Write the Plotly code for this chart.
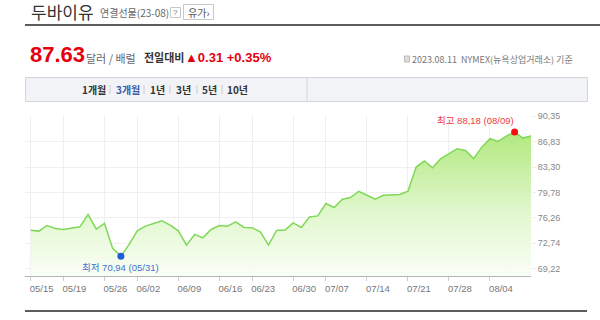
import plotly.graph_objects as go

# ---- data ----
dates = ["05/15","05/16","05/17","05/18","05/19","05/22","05/23","05/24","05/25","05/26",
         "05/30","05/31","06/01","06/02","06/05","06/06","06/07","06/08","06/09","06/12",
         "06/13","06/14","06/15","06/16","06/20","06/21","06/22","06/23","06/26","06/27",
         "06/28","06/29","06/30","07/03","07/05","07/06","07/07","07/10","07/11","07/12",
         "07/13","07/14","07/17","07/18","07/19","07/20","07/21","07/24","07/25","07/26",
         "07/27","07/28","07/31","08/01","08/02","08/03","08/04","08/07","08/08","08/09",
         "08/10","08/11"]
prices = [74.56,74.43,75.21,74.80,74.66,74.80,75.02,76.73,74.70,75.49,
          72.04,70.94,72.60,74.47,75.12,75.49,75.85,75.26,74.47,72.49,
          73.97,73.50,74.66,75.21,75.12,75.71,74.94,74.88,74.33,72.49,
          74.56,74.56,75.57,74.94,76.40,76.54,78.25,77.70,78.85,79.08,
          79.95,79.40,78.85,79.40,79.40,79.50,79.95,83.31,84.14,83.20,
          84.47,85.16,85.85,85.61,84.47,86.07,87.23,86.86,87.59,88.18,
          87.32,87.63]
x_ticks = ["05/15","05/19","05/26","06/02","06/09","06/16","06/23","06/30",
           "07/07","07/14","07/21","07/28","08/04"]
y_ticks = [69.22,72.74,76.26,79.78,83.30,86.83,90.35]
y_tick_text = ["69,22","72,74","76,26","79,78","83,30","86,83","90,35"]
tabs = ["1개월","3개월","1년","3년","5년","10년"]

# ---- layout helpers (pixel -> paper) ----
L, T, W, H = 25, 116, 506, 160
def X(px): return (px - L) / W
def Y(py): return (T + H - py) / H

FONT = "Liberation Sans, Noto Sans CJK KR, sans-serif"
KFONT = "Noto Sans CJK KR, sans-serif"

fig = go.Figure()
fig.add_trace(go.Scatter(
    x=dates, y=prices, mode="lines",
    line=dict(color="#7fd858", width=1.5),
    fill="tozeroy",
    fillgradient=dict(type="vertical",
                      colorscale=[[0, "#fafef6"], [0.45, "#e0f7cc"], [1, "#b0e87c"]],
                      start=68.21, stop=88.5),
    hoverinfo="skip", showlegend=False))

imin = prices.index(min(prices))
imax = prices.index(max(prices))
fig.add_trace(go.Scatter(x=[dates[imin]], y=[prices[imin]], mode="markers",
                         marker=dict(color="#1d5fd8", size=7), showlegend=False))
fig.add_trace(go.Scatter(x=[dates[imax]], y=[prices[imax]], mode="markers",
                         marker=dict(color="#f01010", size=7), showlegend=False))

fig.add_annotation(x=dates[imin], y=prices[imin], xref="x", yref="y",
                   text=f"최저 {prices[imin]:.2f} ({dates[imin]})".replace(".", ","),
                   showarrow=False, xanchor="center", yanchor="top", yshift=-4,
                   font=dict(family=FONT, size=9.5, color="#3f72d0"))
fig.add_annotation(x=dates[imax], y=prices[imax], xref="x", yref="y",
                   text=f"최고 {prices[imax]:.2f} ({dates[imax]})".replace(".", ","),
                   showarrow=False, xanchor="right", yanchor="bottom", yshift=4, xshift=1,
                   font=dict(family=FONT, size=9.5, color="#f03a3a"))

shapes = []
ann = []
def text(px, py, s, size, color, anchor="left", bold=False, family=FONT):
    ann.append(dict(x=X(px), y=Y(py), xref="paper", yref="paper", text=(f"<b>{s}</b>" if bold else s),
                    showarrow=False, xanchor=anchor, yanchor="middle",
                    font=dict(family=family, size=size, color=color)))
def rect(x0, y0, x1, y1, line="#cccccc", fill="rgba(0,0,0,0)", w=1):
    shapes.append(dict(type="rect", xref="paper", yref="paper", x0=X(x0), x1=X(x1), y0=Y(y0), y1=Y(y1),
                       line=dict(color=line, width=w), fillcolor=fill, layer="above"))
def line(x0, y0, x1, y1, color, w=1):
    shapes.append(dict(type="line", xref="paper", yref="paper", x0=X(x0), x1=X(x1), y0=Y(y0), y1=Y(y1),
                       line=dict(color=color, width=w)))

# header
text(29, 11, "두바이유", 17, "#333333", family=KFONT)
text(98, 12.5, "연결선물(23-08)", 10, "#666666", family=KFONT)
rect(170.5, 7.5, 180.5, 17.5, line="#c8c8c8")
text(175.5, 12.5, "?", 8, "#777777", anchor="center")
rect(183.5, 4.5, 213.5, 19.5, line="#c8c8c8")
text(198, 12, "유가›", 10, "#555555", anchor="center", family=KFONT)
line(25, 25, 600, 25, "#5c5c5c", 2)

text(28, 55, "87.63", 22, "#e4000f", bold=True)
text(84, 58, "달러 / 배럴", 11, "#666666", family=KFONT)
text(142, 57.5, "전일대비", 11, "#333333", bold=True, family=KFONT)
text(183, 58, "▲0.31 +0.35%", 13, "#e4000f", bold=True)
rect(404.5, 56, 409.5, 62, line="#bbbbbb", fill="#dddddd")
text(410, 60, "2023.08.11  NYMEX(뉴욕상업거래소) 기준", 9, "#777777", family=KFONT)

# tab bar
rect(25.5, 77.5, 587.5, 101.5, line="#d3d5db", fill="#f2f3f7")
line(307, 77.5, 307, 101.5, "#d3d5db")
tab_x = [93.5, 128, 157, 183.5, 209.5, 237]
for i, t in enumerate(tabs):
    text(tab_x[i], 89.5, t, 10, "#3a5bab" if i == 1 else "#333333", anchor="center", bold=True, family=KFONT)
for sx in [110, 144, 170, 197, 222]:
    line(sx, 85, sx, 94, "#cccccc")

# bottom line
line(25, 311, 587, 311, "#5c5c5c", 2)

fig.update_layout(
    width=600, height=320,
    margin=dict(l=L, r=600 - L - W, t=T, b=320 - T - H),
    paper_bgcolor="white", plot_bgcolor="white",
    shapes=shapes, annotations=list(fig.layout.annotations) + ann,
    showlegend=False,
    xaxis=dict(type="category", range=[-0.69, 61.0], tickmode="array", tickvals=x_ticks, ticktext=x_ticks,
               showgrid=True, gridcolor="#efefef", gridwidth=1,
               showline=True, linecolor="#b5b5b5", linewidth=1,
               ticks="outside", ticklen=4, tickcolor="#cccccc",
               tickfont=dict(family=FONT, size=9.5, color="#777777"),
               ticklabelshift=11, zeroline=False, fixedrange=True),
    yaxis=dict(range=[68.21, 90.38], side="right", tickmode="array", tickvals=y_ticks, ticktext=y_tick_text,
               showgrid=True, gridcolor="#efefef", gridwidth=1, zeroline=False, showline=False,
               ticks="outside", ticklen=4, tickcolor="#efefef",
               tickfont=dict(family=FONT, size=9, color="#888888"), fixedrange=True),
)

fig.write_html("out.html")
